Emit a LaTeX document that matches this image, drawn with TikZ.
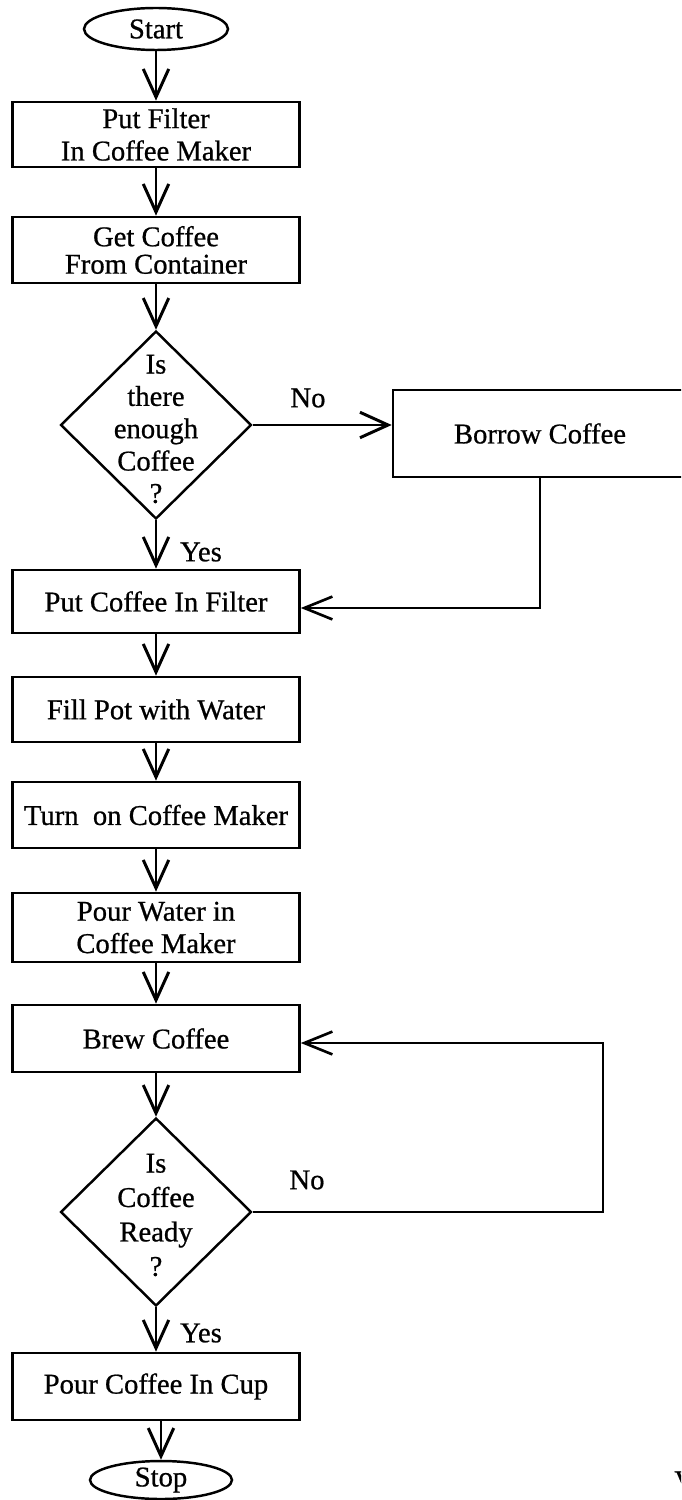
\documentclass[tikz,border=0pt]{standalone}
\usepackage{fontspec}
\setmainfont{Liberation Serif}[FakeBold=0.7]
\usetikzlibrary{arrows.meta,shapes.geometric}

\newcommand{\flowfont}{\fontsize{16.3pt}{18.4pt}\selectfont}
\newcommand{\tightfont}{\fontsize{16.3pt}{15.6pt}\selectfont}
\newcommand{\askfont}{\fontsize{16.3pt}{19.6pt}\selectfont}

\tikzset{
  stepbox/.style={draw, rectangle, line width=1.5pt, inner sep=0pt,
    minimum width=5.74cm, align=center, font=\flowfont},
  terminal/.style={draw, ellipse, line width=1.4pt, inner sep=0pt,
    minimum width=2.88cm, minimum height=0.84cm, font=\flowfont},
  decision/.style={draw, diamond, line width=1.4pt, inner sep=0pt,
    minimum width=3.82cm, minimum height=3.76cm},
  dtext/.style={align=center, inner sep=0pt, font=\flowfont},
  lbl/.style={inner sep=0pt, font=\flowfont},
  flow/.style={line width=1pt,
    -{Straight Barb[length=16pt, width=14.5pt, line width=1.7pt]}},
  backline/.style={line width=0.9pt,
    -{Straight Barb[length=16pt, width=13pt, line width=1.5pt]}},
}

\begin{document}
\begin{tikzpicture}[x=0.02cm, y=-0.02cm]
  \clip (0,0) rectangle (681,1500);
  \fill[white] (0,0) rectangle (681,1500);

  % main column
  \node[terminal] (start) at (156,29) {Start};
  \node[stepbox, minimum height=1.30cm] (filter) at (156,134.5) {Put Filter\\In Coffee Maker};
  \node[stepbox, minimum height=1.32cm, font=\tightfont] (getc) at (156,250) {Get Coffee\\From Container};
  \node[decision] (d1) at (156,425) {};
  \node[dtext] (d1t) at (156,429) {Is\\there\\enough\\Coffee\\?};
  \node[stepbox, minimum height=1.26cm] (putc) at (156,601.5) {Put Coffee In Filter};
  \node[stepbox, minimum height=1.30cm] (fill) at (156,709.5) {Fill Pot with Water};
  \node[stepbox, minimum height=1.32cm] (turn) at (156,815) {Turn\ \ on Coffee Maker};
  \node[stepbox, minimum height=1.38cm] (pourw) at (156,927.5) {Pour Water in\\Coffee Maker};
  \node[stepbox, minimum height=1.34cm] (brew) at (156,1038.5) {Brew Coffee};
  \node[decision] (d2) at (156,1212) {};
  \node[dtext, font=\askfont] (d2t) at (156,1215) {Is\\Coffee\\Ready\\?};
  \node[stepbox, minimum height=1.34cm] (cup) at (156,1386.5) {Pour Coffee In Cup};
  \node[terminal, minimum width=2.84cm, minimum height=0.76cm] (stop) at (161,1480) {Stop};

  % side branch
  \node[stepbox, minimum width=5.88cm, minimum height=1.74cm] (borrow) at (540,433.5) {Borrow Coffee};

  % branch labels
  \node[lbl] (no1) at (308,398) {No};
  \node[lbl] (yes1) at (201,552) {Yes};
  \node[lbl] (no2) at (307,1180) {No};
  \node[lbl] (yes2) at (201,1333) {Yes};

  % cut-off letter at the right margin
  \node[lbl, anchor=west] (vcut) at (674,1481) {V};

  % connectors
  \draw[flow] (start) -- (filter);
  \draw[flow] (filter) -- (getc);
  \draw[flow] (getc) -- (d1);
  \draw[flow] (d1) -- (putc);
  \draw[flow] (d1.east) -- (d1.east -| borrow.west);
  \coordinate (bret) at (540,608);
  \draw[backline] (borrow.south) -- (bret) -- (bret -| putc.east);
  \draw[flow] (putc) -- (fill);
  \draw[flow] (fill) -- (turn);
  \draw[flow] (turn) -- (pourw);
  \draw[flow] (pourw) -- (brew);
  \draw[flow] (brew) -- (d2);
  \draw[flow] (d2) -- (cup);
  \coordinate (rloop) at (603,1043);
  \draw[backline] (d2.east) -- (d2.east -| rloop) -- (rloop) -- (rloop -| brew.east);
  \draw[flow] (stop.north |- cup.south) -- (stop.north);
\end{tikzpicture}
\end{document}
